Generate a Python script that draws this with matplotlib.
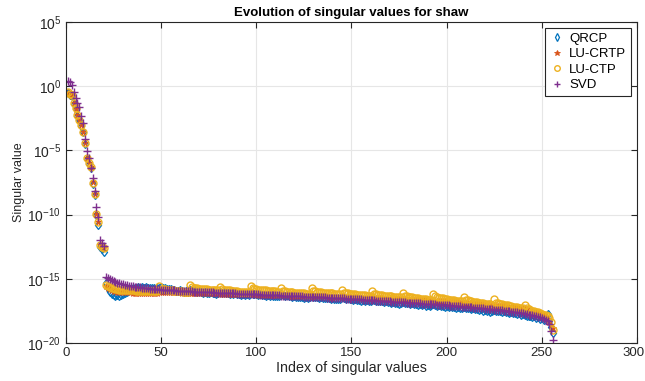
import numpy as np
import matplotlib
matplotlib.use('Agg')
import matplotlib.pyplot as plt
from matplotlib import ticker
from matplotlib import transforms

plt.rcParams['font.family'] = ['Liberation Sans', 'DejaVu Sans']
plt.rcParams['mathtext.fontset'] = 'custom'
plt.rcParams['mathtext.rm'] = 'Liberation Sans'

# log10 of the singular values / approximations, index 1..256
svd_log = [
    0.43, 0.35, 0.09, -0.43, -0.95, -1.29, -1.60, -2.30, -2.84, -4.14, -5.02, -5.62, -6.39, -7.17, -8.20, -9.38,
    -10.16, -11.98, -12.24, -12.45,
    -14.85, -14.95, -15.05, -15.13, -15.20, -15.26, -15.31, -15.36, -15.40, -15.44, -15.48, -15.51,
    -15.54, -15.57, -15.59, -15.61, -15.63, -15.65, -15.67, -15.69, -15.71, -15.73, -15.74, -15.76, -15.77, -15.79, -15.80, -15.82,
    -15.83, -15.84, -15.85, -15.86, -15.87, -15.88, -15.89, -15.90, -15.91, -15.92, -15.93, -15.94, -15.94, -15.95, -15.96, -15.97,
    -15.97, -15.98, -15.99, -16.00, -16.00, -16.01, -16.02, -16.03, -16.03, -16.04, -16.05, -16.05, -16.06, -16.07, -16.07, -16.08,
    -16.09, -16.09, -16.10, -16.11, -16.11, -16.12, -16.13, -16.13, -16.14, -16.15, -16.15, -16.16, -16.17, -16.17, -16.18, -16.19,
    -16.19, -16.20, -16.21, -16.21, -16.22, -16.23, -16.23, -16.24, -16.25, -16.25, -16.26, -16.27, -16.27, -16.28, -16.29, -16.29,
    -16.30, -16.31, -16.31, -16.32, -16.33, -16.33, -16.34, -16.35, -16.35, -16.36, -16.37, -16.37, -16.38, -16.39, -16.39, -16.40,
    -16.41, -16.41, -16.42, -16.43, -16.43, -16.44, -16.45, -16.45, -16.46, -16.47, -16.48, -16.48, -16.49, -16.50, -16.51, -16.51,
    -16.52, -16.53, -16.54, -16.55, -16.55, -16.56, -16.57, -16.58, -16.59, -16.60, -16.61, -16.62, -16.63, -16.64, -16.65, -16.66,
    -16.67, -16.68, -16.69, -16.70, -16.71, -16.72, -16.73, -16.74, -16.75, -16.76, -16.77, -16.78, -16.79, -16.80, -16.81, -16.82,
    -16.83, -16.84, -16.85, -16.86, -16.87, -16.88, -16.89, -16.90, -16.91, -16.92, -16.93, -16.94, -16.95, -16.96, -16.97, -16.98,
    -16.99, -17.00, -17.01, -17.02, -17.03, -17.04, -17.05, -17.06, -17.07, -17.08, -17.10, -17.11, -17.12, -17.13, -17.15, -17.16,
    -17.17, -17.18, -17.20, -17.21, -17.22, -17.24, -17.25, -17.26, -17.28, -17.29, -17.31, -17.32, -17.34, -17.35, -17.37, -17.38,
    -17.40, -17.41, -17.43, -17.45, -17.46, -17.48, -17.50, -17.52, -17.54, -17.56, -17.58, -17.60, -17.62, -17.64, -17.67, -17.69,
    -17.72, -17.75, -17.78, -17.81, -17.85, -17.88, -17.92, -17.96, -18.00, -18.05, -18.10, -18.18, -18.30, -18.55, -19.10, -19.77,
]

luctp_log = [
    -0.48, -0.62, -0.72, -1.33, -1.72, -2.24, -2.60, -3.02, -3.54, -4.45, -5.62, -6.00, -6.30, -7.52, -8.40, -9.95,
    -10.55, -12.40, -12.50, -12.63,
    -15.48, -15.58, -15.64, -15.70, -15.74, -15.78, -15.81, -15.84, -15.86, -15.87, -15.88, -15.89,
    -15.90, -15.90, -15.91, -15.91, -15.92, -15.92, -15.93, -15.93, -15.93, -15.94, -15.94, -15.95, -15.95, -15.96, -15.96, -15.97,
    -15.56, -15.76, -15.80, -15.83, -15.85, -15.87, -15.89, -15.91, -15.92, -15.94, -15.95, -15.96, -15.98, -15.99, -16.00, -16.01,
    -15.45, -15.65, -15.69, -15.72, -15.74, -15.76, -15.78, -15.80, -15.81, -15.83, -15.84, -15.85, -15.87, -15.88, -15.89, -15.90,
    -15.60, -15.80, -15.84, -15.87, -15.89, -15.91, -15.93, -15.95, -15.96, -15.98, -15.99, -16.00, -16.02, -16.03, -16.04, -16.05,
    -15.55, -15.75, -15.79, -15.82, -15.84, -15.86, -15.88, -15.90, -15.91, -15.93, -15.94, -15.95, -15.97, -15.98, -15.99, -16.00,
    -15.72, -15.92, -15.96, -15.99, -16.01, -16.03, -16.05, -16.07, -16.08, -16.10, -16.11, -16.12, -16.14, -16.15, -16.16, -16.17,
    -15.74, -15.94, -15.98, -16.01, -16.03, -16.05, -16.07, -16.09, -16.10, -16.12, -16.13, -16.14, -16.16, -16.17, -16.18, -16.19,
    -15.87, -16.07, -16.11, -16.14, -16.16, -16.18, -16.20, -16.22, -16.23, -16.25, -16.26, -16.27, -16.29, -16.30, -16.31, -16.32,
    -15.98, -16.18, -16.22, -16.25, -16.27, -16.29, -16.31, -16.33, -16.34, -16.36, -16.37, -16.38, -16.40, -16.41, -16.42, -16.43,
    -16.08, -16.30, -16.34, -16.38, -16.41, -16.44, -16.47, -16.50, -16.52, -16.54, -16.56, -16.58, -16.60, -16.62, -16.64, -16.66,
    -16.15, -16.37, -16.42, -16.46, -16.50, -16.53, -16.56, -16.59, -16.62, -16.64, -16.66, -16.68, -16.70, -16.72, -16.74, -16.76,
    -16.42, -16.64, -16.68, -16.72, -16.75, -16.78, -16.81, -16.84, -16.87, -16.89, -16.91, -16.93, -16.95, -16.97, -16.99, -17.01,
    -16.60, -16.85, -16.90, -16.94, -16.98, -17.01, -17.04, -17.07, -17.10, -17.13, -17.16, -17.19, -17.22, -17.25, -17.28, -17.30,
    -17.04, -17.30, -17.36, -17.42, -17.47, -17.52, -17.57, -17.62, -17.67, -17.72, -17.78, -17.85, -17.93, -18.08, -18.40, -18.95,
]

lucrtp_log = [
    -0.50, -0.60, -0.75, -1.30, -1.75, -2.22, -2.62, -3.00, -3.56, -4.43, -5.60, -6.02, -6.32, -7.50, -8.42, -9.93,
    -10.58, -12.38, -12.52, -12.60,
    -15.55, -15.70, -15.80, -15.88, -15.94, -15.98, -16.01, -16.03, -16.04, -16.05, -16.05, -16.06,
    -16.06, -16.06, -16.07, -16.07, -16.07, -16.08, -16.08, -16.08, -16.09, -16.09, -16.09, -16.10, -16.10, -16.10, -16.11, -16.11,
    -16.02, -16.02, -16.03, -16.03, -16.04, -16.04, -16.04, -16.05, -16.05, -16.06, -16.06, -16.06, -16.07, -16.07, -16.08, -16.08,
    -16.08, -16.09, -16.09, -16.10, -16.10, -16.10, -16.11, -16.11, -16.12, -16.12, -16.12, -16.13, -16.13, -16.14, -16.14, -16.14,
    -16.15, -16.15, -16.16, -16.16, -16.16, -16.17, -16.17, -16.18, -16.18, -16.18, -16.19, -16.19, -16.20, -16.20, -16.20, -16.21,
    -16.21, -16.22, -16.22, -16.22, -16.23, -16.23, -16.24, -16.24, -16.24, -16.25, -16.25, -16.26, -16.26, -16.26, -16.27, -16.27,
    -16.28, -16.28, -16.28, -16.29, -16.29, -16.30, -16.30, -16.30, -16.31, -16.31, -16.32, -16.32, -16.32, -16.33, -16.33, -16.34,
    -16.34, -16.34, -16.35, -16.35, -16.36, -16.36, -16.36, -16.37, -16.37, -16.38, -16.38, -16.38, -16.39, -16.39, -16.40, -16.40,
    -16.40, -16.41, -16.41, -16.42, -16.43, -16.43, -16.44, -16.45, -16.45, -16.46, -16.46, -16.47, -16.48, -16.48, -16.49, -16.50,
    -16.50, -16.51, -16.52, -16.52, -16.53, -16.53, -16.54, -16.55, -16.55, -16.56, -16.57, -16.57, -16.58, -16.59, -16.59, -16.60,
    -16.60, -16.61, -16.62, -16.62, -16.63, -16.64, -16.64, -16.65, -16.66, -16.66, -16.67, -16.67, -16.68, -16.69, -16.69, -16.70,
    -16.71, -16.71, -16.72, -16.73, -16.73, -16.74, -16.75, -16.76, -16.77, -16.78, -16.80, -16.81, -16.82, -16.83, -16.85, -16.86,
    -16.87, -16.88, -16.90, -16.91, -16.92, -16.93, -16.95, -16.96, -16.97, -16.98, -17.00, -17.01, -17.02, -17.03, -17.05, -17.06,
    -17.07, -17.08, -17.10, -17.11, -17.12, -17.13, -17.15, -17.16, -17.17, -17.18, -17.20, -17.21, -17.22, -17.23, -17.25, -17.26,
    -17.30, -17.35, -17.40, -17.45, -17.50, -17.55, -17.60, -17.65, -17.70, -17.75, -17.85, -17.95, -18.10, -18.34, -18.60, -18.86,
]

qrcp_log = [
    -0.52, -0.66, -0.78, -1.38, -1.78, -2.30, -2.66, -3.08, -3.60, -4.50, -5.68, -6.06, -6.36, -7.58, -8.46, -10.05,
    -10.80, -12.50, -12.70, -12.90,
    -15.35, -15.75, -16.05, -16.22, -16.28, -16.30, -16.26, -16.31, -16.24, -16.20, -16.10, -16.00,
    -15.90, -15.80, -15.72, -15.68, -15.70, -15.66, -15.69, -15.65, -15.70, -15.67, -15.72, -15.69, -15.74, -15.71, -15.76, -15.73,
    -15.70, -15.66, -15.74, -15.69, -15.78, -15.83, -15.80, -15.88, -15.85, -15.92, -15.95, -15.90, -15.97, -16.02, -15.96, -16.00,
    -15.85, -15.92, -15.96, -15.90, -16.01, -15.98, -16.05, -16.10, -16.03, -16.08, -16.12, -16.06, -16.14, -16.09, -16.15, -16.11,
    -16.02, -16.08, -16.05, -16.12, -16.09, -16.15, -16.11, -16.18, -16.14, -16.20, -16.16, -16.23, -16.19, -16.25, -16.21, -16.27,
    -16.10, -16.15, -16.20, -16.17, -16.24, -16.21, -16.27, -16.23, -16.30, -16.26, -16.33, -16.28, -16.35, -16.31, -16.37, -16.33,
    -16.22, -16.27, -16.31, -16.28, -16.35, -16.32, -16.39, -16.35, -16.42, -16.38, -16.44, -16.40, -16.47, -16.43, -16.49, -16.45,
    -16.33, -16.38, -16.42, -16.39, -16.46, -16.43, -16.50, -16.46, -16.53, -16.49, -16.56, -16.52, -16.58, -16.54, -16.61, -16.57,
    -16.45, -16.50, -16.54, -16.51, -16.58, -16.55, -16.62, -16.58, -16.66, -16.62, -16.69, -16.65, -16.73, -16.68, -16.76, -16.71,
    -16.62, -16.67, -16.72, -16.69, -16.76, -16.73, -16.80, -16.76, -16.84, -16.80, -16.88, -16.83, -16.91, -16.86, -16.94, -16.89,
    -16.80, -16.86, -16.90, -16.87, -16.95, -16.91, -16.99, -16.94, -17.02, -16.97, -17.05, -17.00, -17.08, -17.03, -17.11, -17.06,
    -16.98, -17.04, -17.08, -17.05, -17.12, -17.09, -17.16, -17.12, -17.20, -17.15, -17.23, -17.18, -17.26, -17.21, -17.29, -17.24,
    -17.18, -17.25, -17.30, -17.27, -17.34, -17.31, -17.39, -17.35, -17.43, -17.38, -17.47, -17.42, -17.51, -17.46, -17.55, -17.49,
    -17.40, -17.47, -17.52, -17.48, -17.56, -17.52, -17.60, -17.56, -17.64, -17.60, -17.69, -17.64, -17.73, -17.68, -17.82, -17.74,
    -17.80, -17.86, -17.92, -17.88, -17.96, -17.93, -18.05, -17.98, -18.10, -18.05, -18.20, -18.00, -17.75, -18.30, -18.73, -19.25,
]

idx = np.arange(1, len(svd_log) + 1)

fig = plt.figure(figsize=(6.45, 3.81), dpi=100)
ax = fig.add_axes([0.1023, 0.0997, 0.8853, 0.8426])

ax.semilogy(idx, 10.0 ** np.array(qrcp_log), 'd', color='#0072BD', mfc='none',
            ms=4.5, mew=0.9, label='QRCP')
ax.semilogy(idx, 10.0 ** np.array(lucrtp_log), '*', color='#D95319',
            ms=5, mew=0.6, label='LU-CRTP')
ax.semilogy(idx, 10.0 ** np.array(luctp_log), 'o', color='#EDB120', mfc='none',
            ms=5, mew=1.0, label='LU-CTP')
ax.semilogy(idx, 10.0 ** np.array(svd_log), '+', color='#7E2F8E',
            ms=6, mew=1.0, label='SVD')

ax.set_xlim(0, 300)
ax.set_ylim(1e-20, 1e5)
ax.set_xticks([0, 50, 100, 150, 200, 250, 300])
ax.set_yticks([1e-20, 1e-15, 1e-10, 1e-5, 1e0, 1e5])
ax.yaxis.set_minor_locator(ticker.NullLocator())
ax.tick_params(direction='in', top=True, right=True, labelsize=10, length=4,
               color='#262626', labelcolor='#262626')
ax.tick_params(axis='x', labelsize=9.5, pad=3)
ax.grid(True, color='#e6e6e6', linewidth=0.8)
ax.set_axisbelow(True)
for s in ax.spines.values():
    s.set_color('#262626')
    s.set_linewidth(0.8)

# nudge the last x tick label so it stays inside the figure
fig.canvas.draw()
lab = ax.get_xticklabels()[-1]
lab.set_transform(lab.get_transform() + transforms.ScaledTranslation(-3 / 100, 0, fig.dpi_scale_trans))

ax.set_title('Evolution of singular values for shaw', fontsize=9.5, fontweight='bold', pad=4)
ax.set_xlabel('Index of singular values', fontsize=10.3, labelpad=1, color='#262626')
ax.set_ylabel('Singular value', fontsize=9, labelpad=2, color='#262626')

leg = ax.legend(loc='upper right', fontsize=9.5, fancybox=False, framealpha=1,
                edgecolor='#262626', borderaxespad=0.45, handletextpad=0.3,
                handlelength=1.2, borderpad=0.35, labelspacing=0.25, markerscale=0.8)
leg.get_frame().set_linewidth(0.8)

fig.savefig('out.png', dpi=100)
